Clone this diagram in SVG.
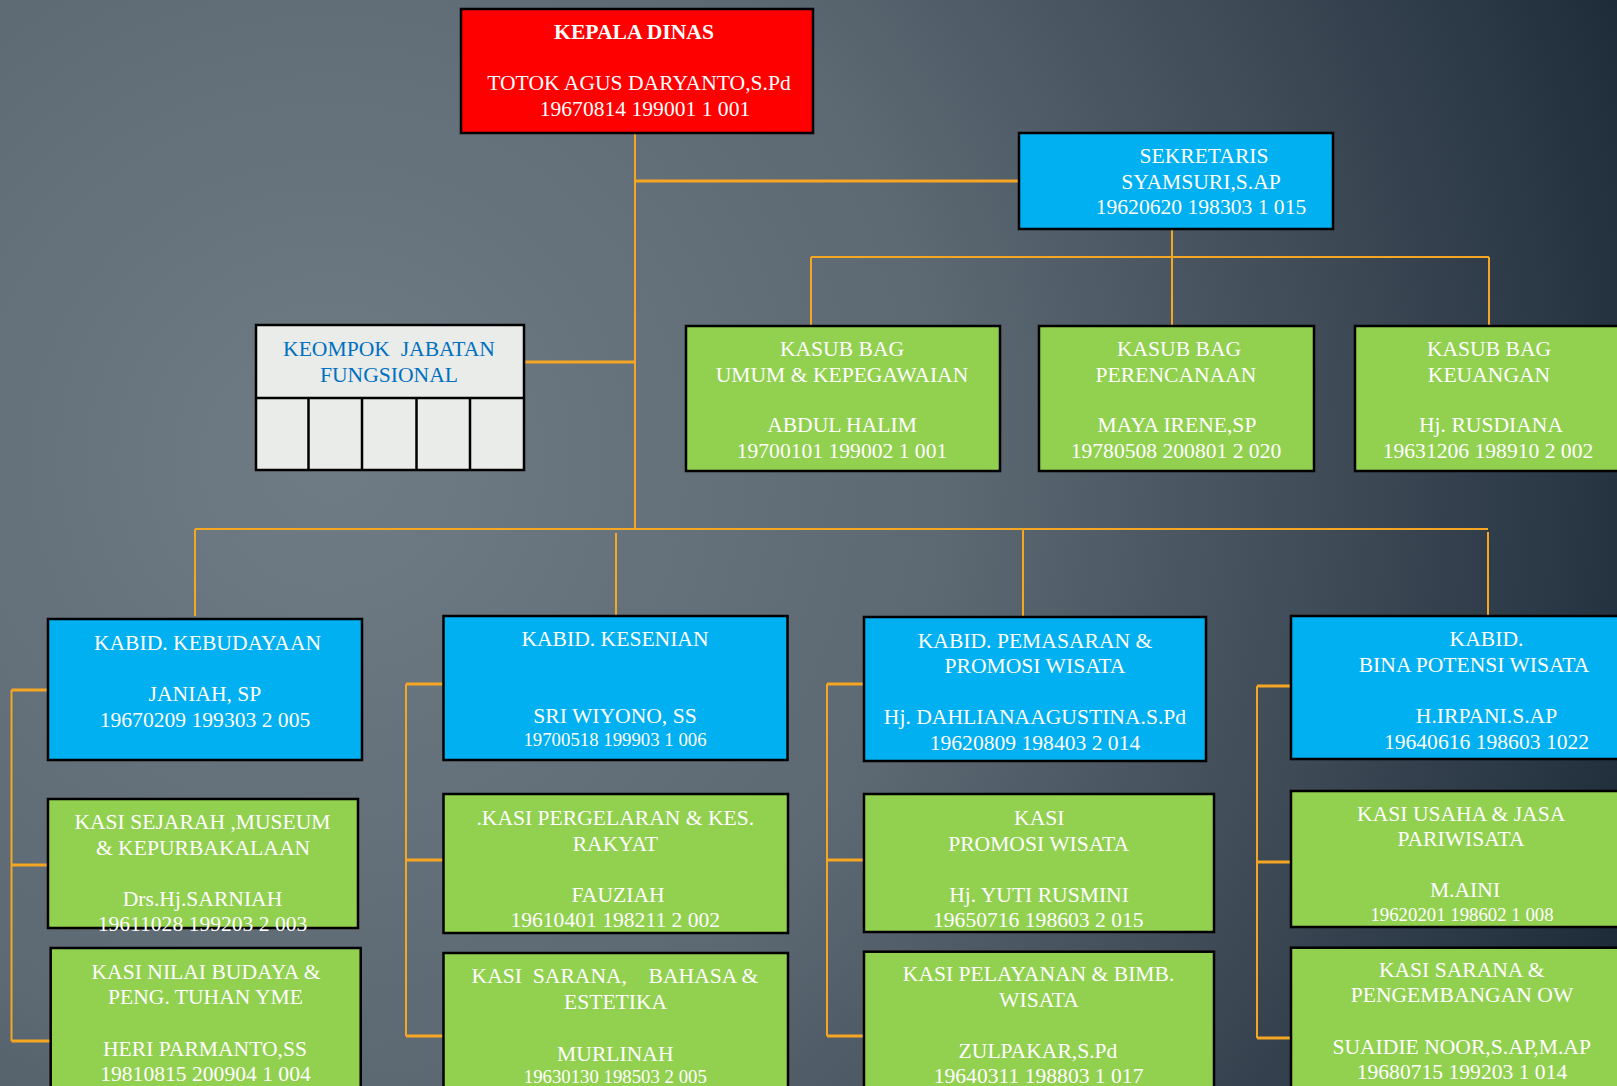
<svg xmlns="http://www.w3.org/2000/svg" width="1617" height="1086" viewBox="0 0 1617 1086">
<defs>
<radialGradient id="bg" gradientUnits="userSpaceOnUse" cx="330" cy="460" r="1380">
<stop offset="0" stop-color="#707c85"/>
<stop offset="0.45" stop-color="#5c6872"/>
<stop offset="0.75" stop-color="#3c4854"/>
<stop offset="1" stop-color="#1d2b39"/>
</radialGradient>
<style>
.t{font-family:"Liberation Serif","Times New Roman",serif;font-size:21.6px;fill:#ffffff;text-anchor:middle}
.s{font-size:18.8px}
.b{font-weight:bold}
.k{fill:#0070c0}
.box{stroke:#000000;stroke-width:2.5}
.red{fill:#ff0000}
.blue{fill:#00b0f0}
.green{fill:#92d050}
.grey{fill:#e9ece9}
.c{stroke:#f5a623;stroke-width:2;fill:none}
.c3{stroke:#f5a623;stroke-width:3;fill:none}
</style>
</defs>
<rect x="0" y="0" width="1617" height="1086" fill="url(#bg)"/>

<g id="connectors">
<path class="c" d="M635 133 V529"/>
<path class="c3" d="M635 181 H1019"/>
<path class="c3" d="M524 362 H635"/>
<path class="c" d="M1172 229 V257"/>
<path class="c" d="M811 257 H1489"/>
<path class="c" d="M811 257 V326"/>
<path class="c" d="M1172 257 V327"/>
<path class="c" d="M1489 257 V327"/>
<path class="c" d="M195 529 H1488"/>
<path class="c" d="M195 529 V616"/>
<path class="c" d="M616 533 V616"/>
<path class="c" d="M1023 529 V617"/>
<path class="c" d="M1488 532 V616"/>
<path class="c" d="M11.5 690 V1041"/>
<path class="c3" d="M11.5 690 H48"/>
<path class="c3" d="M11.5 865 H48"/>
<path class="c3" d="M11.5 1041 H50"/>
<path class="c" d="M406 684 V1036"/>
<path class="c3" d="M406 684 H444"/>
<path class="c3" d="M406 860 H444"/>
<path class="c3" d="M406 1036 H444"/>
<path class="c" d="M827 684 V1036"/>
<path class="c3" d="M827 684 H864"/>
<path class="c3" d="M827 860 H864"/>
<path class="c3" d="M827 1036 H864"/>
<path class="c" d="M1257 686 V1038"/>
<path class="c3" d="M1257 686 H1291"/>
<path class="c3" d="M1257 862 H1291"/>
<path class="c3" d="M1257 1038 H1291"/>
</g>

<g id="kepala-dinas">
<rect class="box red" x="461" y="9" width="352" height="124"/>
<text class="t b" x="634" y="39">KEPALA DINAS</text>
<text class="t" x="639" y="90">TOTOK AGUS DARYANTO,S.Pd</text>
<text class="t" x="645" y="115.5">19670814 199001 1 001</text>
</g>

<g id="sekretaris">
<rect class="box blue" x="1019" y="133" width="314" height="96"/>
<text class="t" x="1204" y="163">SEKRETARIS</text>
<text class="t" x="1201" y="189">SYAMSURI,S.AP</text>
<text class="t" x="1201" y="214">19620620 198303 1 015</text>
</g>

<g id="kelompok-fungsional">
<rect class="box grey" x="256" y="325" width="268" height="145"/>
<path d="M256 398 H524 M308.5 398 V470 M362 398 V470 M416.5 398 V470 M470 398 V470" stroke="#000" stroke-width="2.5" fill="none"/>
<text class="t k" x="389" y="356" xml:space="preserve">KEOMPOK  JABATAN</text>
<text class="t k" x="389" y="382">FUNGSIONAL</text>
</g>

<g id="kasub-umum">
<rect class="box green" x="686" y="326" width="314" height="145"/>
<text class="t" x="842" y="356">KASUB BAG</text>
<text class="t" x="842" y="382">UMUM &amp; KEPEGAWAIAN</text>
<text class="t" x="842" y="432">ABDUL HALIM</text>
<text class="t" x="842" y="458">19700101 199002 1 001</text>
</g>

<g id="kasub-perencanaan">
<rect class="box green" x="1039" y="326" width="275" height="145"/>
<text class="t" x="1179" y="356">KASUB BAG</text>
<text class="t" x="1176" y="382">PERENCANAAN</text>
<text class="t" x="1177" y="432">MAYA IRENE,SP</text>
<text class="t" x="1176" y="458">19780508 200801 2 020</text>
</g>

<g id="kasub-keuangan">
<rect class="box green" x="1355" y="326" width="290" height="145"/>
<text class="t" x="1489" y="356">KASUB BAG</text>
<text class="t" x="1489" y="382">KEUANGAN</text>
<text class="t" x="1491" y="432">Hj. RUSDIANA</text>
<text class="t" x="1488" y="458">19631206 198910 2 002</text>
</g>

<g id="kabid-kebudayaan">
<rect class="box blue" x="48" y="619" width="314" height="141"/>
<text class="t" x="207.5" y="650">KABID. KEBUDAYAAN</text>
<text class="t" x="205" y="701">JANIAH, SP</text>
<text class="t" x="205" y="727">19670209 199303 2 005</text>
</g>

<g id="kabid-kesenian">
<rect class="box blue" x="443.5" y="616" width="344" height="144"/>
<text class="t" x="615" y="646">KABID. KESENIAN</text>
<text class="t" x="615" y="723">SRI WIYONO, SS</text>
<text class="t s" x="615" y="746">19700518 199903 1 006</text>
</g>

<g id="kabid-pemasaran">
<rect class="box blue" x="864" y="617" width="342" height="144"/>
<text class="t" x="1035" y="648">KABID. PEMASARAN &amp;</text>
<text class="t" x="1035" y="673">PROMOSI WISATA</text>
<text class="t" x="1035" y="723.5">Hj. DAHLIANAAGUSTINA.S.Pd</text>
<text class="t" x="1035" y="749.5">19620809 198403 2 014</text>
</g>

<g id="kabid-bina-potensi">
<rect class="box blue" x="1291" y="616" width="350" height="143"/>
<text class="t" x="1486.5" y="646">KABID.</text>
<text class="t" x="1474" y="672">BINA POTENSI WISATA</text>
<text class="t" x="1486.5" y="723">H.IRPANI.S.AP</text>
<text class="t" x="1486.5" y="748.5">19640616 198603 1022</text>
</g>

<g id="kasi-sejarah">
<rect class="box green" x="48" y="799" width="310" height="129"/>
<text class="t" x="202.5" y="829">KASI SEJARAH ,MUSEUM</text>
<text class="t" x="203" y="855">&amp; KEPURBAKALAAN</text>
<text class="t" x="202.5" y="906">Drs.Hj.SARNIAH</text>
<text class="t" x="202.5" y="931">19611028 199203 2 003</text>
</g>

<g id="kasi-nilai-budaya">
<rect class="box green" x="50.7" y="948" width="310" height="160"/>
<text class="t" x="206" y="979">KASI NILAI BUDAYA &amp;</text>
<text class="t" x="205.5" y="1004">PENG. TUHAN YME</text>
<text class="t" x="205" y="1056">HERI PARMANTO,SS</text>
<text class="t" x="205.5" y="1081">19810815 200904 1 004</text>
</g>

<g id="kasi-pergelaran">
<rect class="box green" x="443.5" y="794" width="344.5" height="139"/>
<text class="t" x="615.3" y="825">.KASI PERGELARAN &amp; KES.</text>
<text class="t" x="615.3" y="851">RAKYAT</text>
<text class="t" x="618" y="902.3">FAUZIAH</text>
<text class="t" x="615.3" y="927.3">19610401 198211 2 002</text>
</g>

<g id="kasi-sarana-bahasa">
<rect class="box green" x="443.5" y="953" width="344.5" height="160"/>
<text class="t" x="615" y="983.3" xml:space="preserve">KASI  SARANA,    BAHASA &amp;</text>
<text class="t" x="615.6" y="1009">ESTETIKA</text>
<text class="t" x="615.3" y="1060.7">MURLINAH</text>
<text class="t s" x="615.3" y="1083.3">19630130 198503 2 005</text>
</g>

<g id="kasi-promosi">
<rect class="box green" x="864" y="794" width="350" height="138"/>
<text class="t" x="1039.3" y="825">KASI</text>
<text class="t" x="1038.6" y="851">PROMOSI WISATA</text>
<text class="t" x="1039" y="902.3">Hj. YUTI RUSMINI</text>
<text class="t" x="1038.3" y="926.7">19650716 198603 2 015</text>
</g>

<g id="kasi-pelayanan">
<rect class="box green" x="864" y="951.7" width="350" height="160"/>
<text class="t" x="1038.6" y="981">KASI PELAYANAN &amp; BIMB.</text>
<text class="t" x="1039" y="1006.7">WISATA</text>
<text class="t" x="1038" y="1057.7">ZULPAKAR,S.Pd</text>
<text class="t" x="1038.6" y="1083.3">19640311 198803 1 017</text>
</g>

<g id="kasi-usaha-jasa">
<rect class="box green" x="1291" y="791" width="350" height="136"/>
<text class="t" x="1461.2" y="821">KASI USAHA &amp; JASA</text>
<text class="t" x="1461" y="846">PARIWISATA</text>
<text class="t" x="1465" y="897.3">M.AINI</text>
<text class="t s" x="1462" y="921">19620201 198602 1 008</text>
</g>

<g id="kasi-sarana-ow">
<rect class="box green" x="1291" y="947.7" width="350" height="160"/>
<text class="t" x="1461.7" y="977.3">KASI SARANA &amp;</text>
<text class="t" x="1462" y="1002.3">PENGEMBANGAN OW</text>
<text class="t" x="1461.7" y="1054">SUAIDIE NOOR,S.AP,M.AP</text>
<text class="t" x="1462" y="1079">19680715 199203 1 014</text>
</g>
</svg>
